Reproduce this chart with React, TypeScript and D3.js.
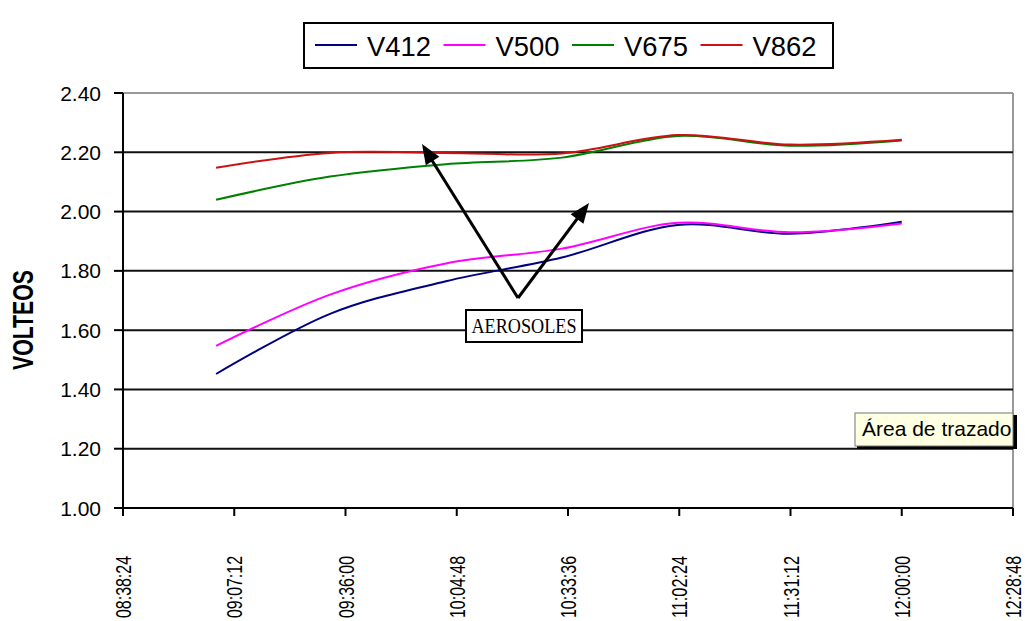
import React from "react";
import * as d3 from "d3";

const times = ["09:02:30", "09:32:00", "10:02:00", "10:32:00", "11:02:00", "11:31:00", "12:00:00"];
const seriesNames = ["V412", "V500", "V675", "V862"];
const v412 = [1.452, 1.655, 1.765, 1.845, 1.955, 1.925, 1.966];
const v500 = [1.547, 1.72, 1.825, 1.875, 1.962, 1.93, 1.96];
const v675 = [2.04, 2.118, 2.16, 2.182, 2.255, 2.222, 2.24];
const v862 = [2.148, 2.198, 2.198, 2.196, 2.258, 2.226, 2.242];
const seriesColors = ["#000080", "#FF00FF", "#008000", "#CC1111"];
const yTicks = [1.0, 1.2, 1.4, 1.6, 1.8, 2.0, 2.2, 2.4];
const xTicks = [0.36, 0.38, 0.4, 0.42, 0.44, 0.46, 0.48, 0.5, 0.52];

const W = 1025;
const H = 621;
const plot = { left: 123, right: 1013, top: 93, bottom: 508 };

function toFrac(t: string): number {
  const [h, m, s] = t.split(":").map(Number);
  return (h * 3600 + m * 60 + s) / 86400;
}
function fmtTime(f: number): string {
  const total = Math.round(f * 86400);
  const h = Math.floor(total / 3600);
  const m = Math.floor((total % 3600) / 60);
  const s = total % 60;
  const p = (n: number) => String(n).padStart(2, "0");
  return `${p(h)}:${p(m)}:${p(s)}`;
}

export default function App() {
  const x = d3.scaleLinear().domain([0.36, 0.52]).range([plot.left, plot.right]);
  const y = d3.scaleLinear().domain([1.0, 2.4]).range([plot.bottom, plot.top]);
  const allSeries = [v412, v500, v675, v862];
  const line = d3
    .line<[number, number]>()
    .x((d) => x(d[0]))
    .y((d) => y(d[1]))
    .curve(d3.curveCardinal.tension(0));

  const arrowHead = (x1: number, y1: number, x2: number, y2: number) => {
    const ang = Math.atan2(y2 - y1, x2 - x1);
    const len = 20;
    const half = 8;
    const bx = x2 - len * Math.cos(ang);
    const by = y2 - len * Math.sin(ang);
    const px = -Math.sin(ang) * half;
    const py = Math.cos(ang) * half;
    return `M${x2},${y2}L${bx + px},${by + py}L${bx - px},${by - py}Z`;
  };
  const apex = [518, 298];
  const tipL = [422, 144];
  const tipR = [589, 203];

  const legendX0 = 315;
  const legendStep = 128.5;

  return (
    <svg
      width={W}
      height={H}
      style={{ position: "absolute", left: 0, top: 0, background: "#fff" }}
      fontFamily="'Liberation Sans', Arial, sans-serif"
    >
      <rect x={0} y={0} width={W} height={H} fill="#fff" />
      {/* plot border (top/right gray) */}
      <line x1={plot.left} x2={plot.right} y1={plot.top} y2={plot.top} stroke="#999" strokeWidth={2} />
      <line x1={plot.right} x2={plot.right} y1={plot.top} y2={plot.bottom} stroke="#999" strokeWidth={2} />
      {/* gridlines */}
      {yTicks.slice(1, -1).map((t) => (
        <line key={t} x1={plot.left} x2={plot.right} y1={y(t)} y2={y(t)} stroke="#111" strokeWidth={2} />
      ))}
      {/* y axis */}
      <line x1={plot.left} x2={plot.left} y1={plot.top} y2={plot.bottom} stroke="#000" strokeWidth={2} />
      {yTicks.map((t) => (
        <g key={t}>
          <line x1={plot.left - 9} x2={plot.left} y1={y(t)} y2={y(t)} stroke="#000" strokeWidth={2} />
          <text x={101} y={y(t) + 7.5} textAnchor="end" fontSize={21} fill="#000">
            {t.toFixed(2)}
          </text>
        </g>
      ))}
      {/* x axis */}
      <line x1={plot.left} x2={plot.right} y1={plot.bottom} y2={plot.bottom} stroke="#000" strokeWidth={2} />
      {xTicks.map((t) => (
        <g key={t}>
          <line x1={x(t)} x2={x(t)} y1={plot.bottom} y2={plot.bottom + 8} stroke="#000" strokeWidth={2} />
          <text
            transform={`translate(${x(t) + 8},556) rotate(-90)`}
            textAnchor="end"
            fontSize={22}
            textLength={62}
            lengthAdjust="spacingAndGlyphs"
            fill="#000"
          >
            {fmtTime(t)}
          </text>
        </g>
      ))}
      {/* y title */}
      <text
        transform="translate(33,320) rotate(-90)"
        textAnchor="middle"
        fontSize={29}
        fontWeight="bold"
        textLength={100}
        lengthAdjust="spacingAndGlyphs"
        fill="#000"
      >
        VOLTEOS
      </text>
      {/* series */}
      {allSeries.map((vals, i) => (
        <path
          key={seriesNames[i]}
          d={line(vals.map((v, j) => [toFrac(times[j]), v] as [number, number])) || ""}
          fill="none"
          stroke={seriesColors[i]}
          strokeWidth={2}
        />
      ))}
      {/* arrows */}
      <line x1={apex[0]} y1={apex[1]} x2={tipL[0] + 6} y2={tipL[1] + 10} stroke="#000" strokeWidth={3} />
      <line x1={apex[0]} y1={apex[1]} x2={tipR[0] - 6} y2={tipR[1] + 8} stroke="#000" strokeWidth={3} />
      <path d={arrowHead(apex[0], apex[1], tipL[0], tipL[1])} fill="#000" />
      <path d={arrowHead(apex[0], apex[1], tipR[0], tipR[1])} fill="#000" />
      {/* annotation box */}
      <rect x={466} y={310} width={116} height={32} fill="#fff" stroke="#000" strokeWidth={2} />
      <text
        x={524}
        y={333}
        textAnchor="middle"
        fontFamily="'Liberation Serif', 'Times New Roman', serif"
        fontSize={20}
        textLength={105}
        lengthAdjust="spacingAndGlyphs"
        fill="#000"
      >
        AEROSOLES
      </text>
      {/* legend */}
      <rect x={304} y={23} width={529} height={45} fill="#fff" stroke="#000" strokeWidth={2} />
      {seriesNames.map((n, i) => {
        const lx = legendX0 + i * legendStep;
        return (
          <g key={n}>
            <line x1={lx} x2={lx + 42} y1={45} y2={45} stroke={seriesColors[i]} strokeWidth={2} />
            <text
              x={lx + 52}
              y={56}
              fontSize={28}
              textLength={64}
              lengthAdjust="spacingAndGlyphs"
              fill="#000"
            >
              {n}
            </text>
          </g>
        );
      })}
      {/* tooltip */}
      <rect x={857} y={415} width={160} height={34} fill="#000" />
      <rect x={855} y={413} width={158} height={33} fill="#FFFFE1" stroke="#777" strokeWidth={1} />
      <text x={862} y={436} fontSize={21} fill="#000">
        Área de trazado
      </text>
    </svg>
  );
}
